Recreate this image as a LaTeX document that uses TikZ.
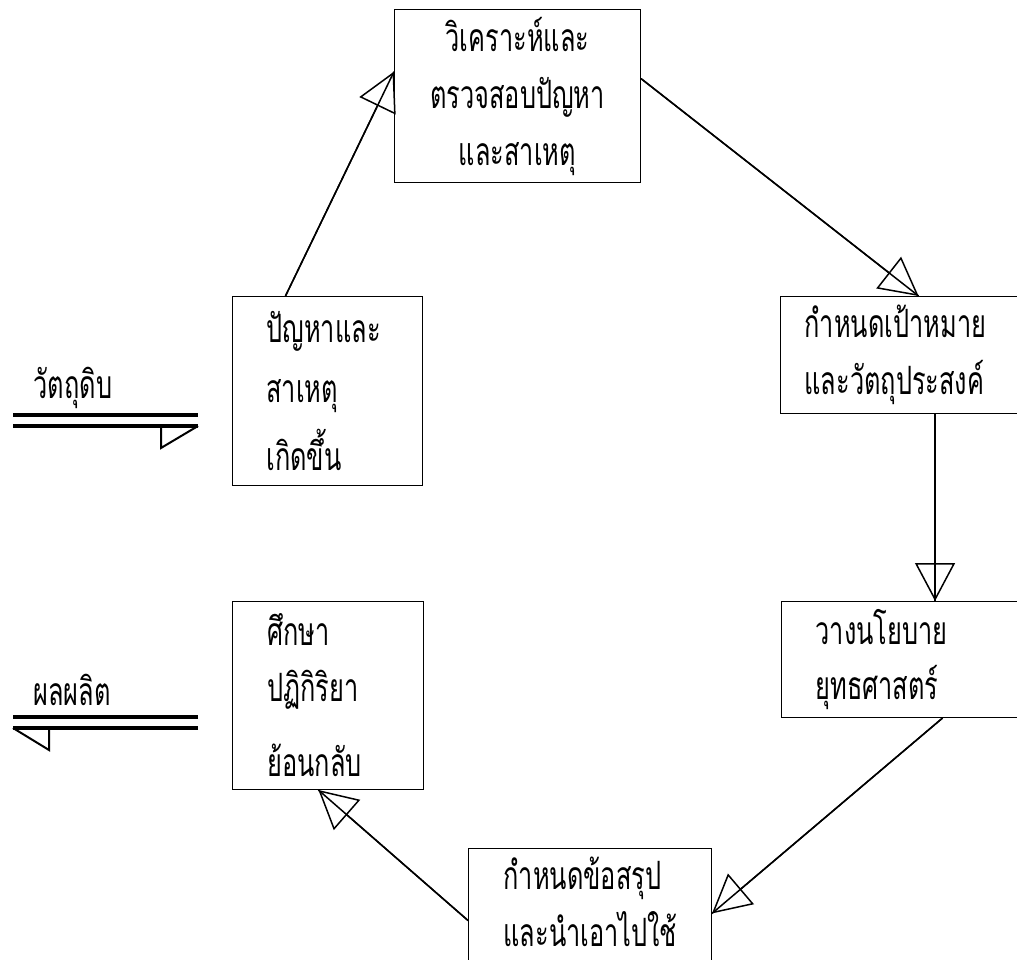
\documentclass[tikz,border=0pt]{standalone}
\usepackage{fontspec}
\newfontfamily\thaifont[Script=Thai, FakeStretch=0.65]{Loma}
\usetikzlibrary{arrows.meta,calc}
\tikzset{
  box/.style={draw, line width=1pt, rectangle, inner ysep=0pt, anchor=north west,
    font=\thaifont\fontsize{39}{57}\selectfont},
  lbox/.style={box, align=left},
  flow/.style={line width=1.5pt, -{Triangle[open, length=38pt, width=40pt, line width=1.5pt]},
    postaction={draw, arrows=-}},
  rail/.style={line width=3.8pt},
  barb/.style={line width=2pt},
  lbl/.style={font=\thaifont\fontsize{39}{44}\selectfont, inner sep=0pt}
}
\begin{document}
\begin{tikzpicture}[x=1pt,y=-1pt]
\useasboundingbox (0,0) rectangle (1017,960);
\clip (0,0) rectangle (1017,960);
% boxes
\node[box, align=center, minimum width=246pt, minimum height=173pt, inner xsep=0pt] (ana) at (394,9)
  {วิเคราะห์และ\\ตรวจสอบปัญหา\\และสาเหตุ};
\node[lbox, minimum height=189pt, inner xsep=34pt, text width=122pt] (prob) at (232,296)
  {ปัญหาและ\\[3pt]สาเหตุ\\[11pt]เกิดขึ้น};
\node[lbox, minimum height=117pt, inner xsep=24pt, text width=212pt] (goal) at (780,296)
  {กำหนดเป้าหมาย\\และวัตถุประสงค์};
\node[lbox, minimum height=116pt, inner xsep=34pt, text width=192pt] (pol) at (781,601)
  {วางนโยบาย\\[-2pt]ยุทธศาสตร์};
\node[lbox, minimum height=140pt, inner xsep=35pt, text width=173pt] (concl) at (468,848)
  {กำหนดข้อสรุป\\และนำเอาไปใช้\\[-23pt]\mbox{}};
\node[lbox, minimum height=188pt, inner xsep=35pt, text width=121pt] (study) at (232,601)
  {ศึกษา\\[-1pt]ปฏิกิริยา\\[18pt]ย้อนกลับ};
% cycle connectors
\draw[flow] ($(prob.north west)!0.28!(prob.north east)$) -- ($(ana.north west)!0.36!(ana.south west)$);
\draw[flow] ($(ana.north east)!0.40!(ana.south east)$) -- ($(goal.north west)!0.531!(goal.north east)$);
\coordinate (gs) at ($(goal.south west)!0.594!(goal.south east)$);
\draw[flow] (gs) -- (gs |- pol.north);
\draw[flow] ($(pol.south west)!0.619!(pol.south east)$) -- ($(concl.north east)!0.464!(concl.south east)$);
\draw[flow] ($(concl.north west)!0.514!(concl.south west)$) -- ($(study.south west)!0.45!(study.south east)$);
% input
\node[lbl] (raw) at (73,388) {วัตถุดิบ};
\coordinate (rawA) at (13,415); \coordinate (rawB) at (198,415);
\coordinate (rawC) at (13,426); \coordinate (rawD) at (198,426);
\draw[rail] (rawA) -- (rawB);
\draw[rail] (rawC) -- (rawD);
\draw[barb] (rawD) -- (161,448) -- (161,428);
% output
\node[lbl] (out) at (72,690) {ผลผลิต};
\coordinate (outA) at (198,717); \coordinate (outB) at (13,717);
\coordinate (outC) at (198,728); \coordinate (outD) at (13,728);
\draw[rail] (outA) -- (outB);
\draw[rail] (outC) -- (outD);
\draw[barb] (outD) -- (49,750) -- (49,730);
\end{tikzpicture}
\end{document}
